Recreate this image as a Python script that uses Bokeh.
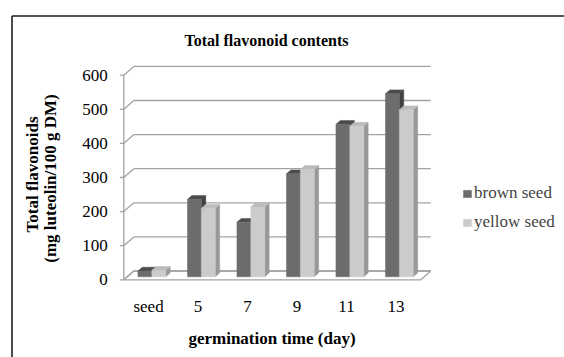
from math import pi

from bokeh.core.properties import value
from bokeh.embed import file_html
from bokeh.models import Legend, LegendItem, Range1d
from bokeh.plotting import figure
from bokeh.resources import INLINE

# --- data -----------------------------------------------------------------
categories = ["seed", "5", "7", "9", "11", "13"]
brown_seed = [17, 227, 160, 302, 447, 537]
yellow_seed = [19, 201, 205, 315, 442, 490]
y_ticks = [0, 100, 200, 300, 400, 500, 600]

# --- canvas geometry (pixels) ---------------------------------------------
W, H = 564, 357
AXIS_X_PX = 123.3     # front value axis
ZERO_Y_PX = 279.3     # front zero line
CAT_PX = 49.5         # width of one category slot
UNIT_PX = 0.341       # pixels per value unit


def xs(px):
    """pixel width -> category units"""
    return px / CAT_PX


def ys(px):
    """pixel height -> value units"""
    return px / UNIT_PX


def at_x(px):
    return (px - AXIS_X_PX) / CAT_PX


def at_y(py):
    return (ZERO_Y_PX - py) / UNIT_PX


WALL_DX, WALL_DY = xs(10), ys(8.8)      # depth of the 3-D box
FRONT_DX, FRONT_DY = xs(3.3), ys(3.0)   # where the bar fronts sit
BAR_DX, BAR_DY = xs(4.4), ys(3.8)       # depth of each bar
BAR_W = xs(13.9)
n = len(categories)

FONT_NAME = "'Liberation Serif', 'Times New Roman', Times, serif"
SERIF = value(FONT_NAME)
GRID = "#a3a3a3"

p = figure(width=W, height=H,
           x_range=Range1d(at_x(0), at_x(W)), y_range=Range1d(at_y(H), at_y(0)),
           x_axis_type=None, y_axis_type=None,
           output_backend="svg", toolbar_location=None, min_border=0)
p.grid.visible = False
p.outline_line_color = None
p.background_fill_color = "white"
p.border_fill_color = "white"

# --- chart border (left and top edges) -------------------------------------
p.segment(x0=[at_x(11.5)], y0=[at_y(15.5)], x1=[at_x(W + 5)], y1=[at_y(15.5)],
          line_color="#1e1e1e", line_width=1.6)
p.segment(x0=[at_x(11.5)], y0=[at_y(15.5)], x1=[at_x(11.5)], y1=[at_y(H + 5)],
          line_color="#1e1e1e", line_width=1.6)

# --- floor -------------------------------------------------------------------
p.patch(x=[0, n, n + WALL_DX, WALL_DX], y=[0, 0, WALL_DY, WALL_DY],
        fill_color="white", line_color=GRID, line_width=1.3)

# --- back wall gridlines and their diagonals -----------------------------------
p.segment(x0=[WALL_DX] * len(y_ticks), y0=[v + WALL_DY for v in y_ticks],
          x1=[n + WALL_DX] * len(y_ticks), y1=[v + WALL_DY for v in y_ticks],
          line_color=GRID, line_width=1.3)
p.segment(x0=[0] * len(y_ticks), y0=y_ticks,
          x1=[WALL_DX] * len(y_ticks), y1=[v + WALL_DY for v in y_ticks],
          line_color=GRID, line_width=1.3)

# --- front value axis with ticks ---------------------------------------------
p.segment(x0=[0], y0=[0], x1=[0], y1=[max(y_ticks)], line_color=GRID, line_width=1.3)
p.segment(x0=[-xs(4)] * len(y_ticks), y0=y_ticks, x1=[0] * len(y_ticks), y1=y_ticks,
          line_color=GRID, line_width=1.3)


# --- 3-D bars ------------------------------------------------------------------
def bar_shapes(values, slot):
    fronts = dict(left=[], right=[], bottom=[], top=[])
    caps_x, caps_y, sides_x, sides_y = [], [], [], []
    for i, v in enumerate(values):
        left = i + 0.5 - BAR_W + slot * BAR_W + FRONT_DX
        right = left + BAR_W
        bottom = FRONT_DY
        top = v + FRONT_DY
        fronts["left"].append(left)
        fronts["right"].append(right)
        fronts["bottom"].append(bottom)
        fronts["top"].append(top)
        caps_x.append([left, right, right + BAR_DX, left + BAR_DX])
        caps_y.append([top, top, top + BAR_DY, top + BAR_DY])
        sides_x.append([right, right, right + BAR_DX, right + BAR_DX])
        sides_y.append([bottom, top, top + BAR_DY, bottom + BAR_DY])
    return fronts, caps_x, caps_y, sides_x, sides_y


series = [
    ("brown seed", brown_seed, "#6c6c6c", "#4c4c4c", "#404040"),
    ("yellow seed", yellow_seed, "#cbcbcb", "#bcbcbc", "#989898"),
]
legend_items = []
for slot, (name, vals, c_front, c_cap, c_side) in enumerate(series):
    fronts, cx, cy, sx, sy = bar_shapes(vals, slot)
    p.patches(xs=sx, ys=sy, fill_color=c_side, line_color=c_side, line_width=0.5)
    p.patches(xs=cx, ys=cy, fill_color=c_cap, line_color=c_cap, line_width=0.5)
    r = p.quad(left=fronts["left"], right=fronts["right"],
               bottom=fronts["bottom"], top=fronts["top"],
               fill_color=c_front, line_color=c_front, line_width=0.5)
    legend_items.append(LegendItem(label=name, renderers=[r]))

# --- texts ---------------------------------------------------------------------
p.text(x=[0] * len(y_ticks), y=y_ticks, text=[str(v) for v in y_ticks],
       x_offset=-16, text_align="right", text_baseline="middle",
       text_font=SERIF, text_font_size="17px", text_color="black")
p.text(x=[i + 0.5 for i in range(n)], y=[0] * n, text=categories,
       y_offset=27, text_align="center", text_baseline="middle",
       text_font=SERIF, text_font_size="17px", text_color="black")

p.text(x=[at_x(266)], y=[at_y(40)], text=["Total flavonoid contents"],
       text_align="center", text_baseline="middle", text_font=SERIF,
       text_font_style="bold", text_font_size="16px", text_color="black")
p.text(x=[at_x(271.5)], y=[at_y(338)], text=["germination time (day)"],
       text_align="center", text_baseline="middle", text_font=SERIF,
       text_font_style="bold", text_font_size="17px", text_color="black")
p.text(x=[at_x(32), at_x(50)], y=[at_y(174), at_y(178)],
       text=["Total flavonoids", "(mg luteolin/100 g DM)"], angle=pi / 2,
       text_align="center", text_baseline="middle", text_font=SERIF,
       text_font_style="bold", text_font_size="17px", text_color="black")

legend = Legend(items=legend_items, location=(462, 125),
                glyph_width=10, glyph_height=9, label_standoff=2, spacing=9,
                padding=0, margin=0, border_line_color=None,
                background_fill_alpha=0, label_text_font=FONT_NAME,
                label_text_font_size="17px", label_text_baseline="middle")
p.add_layout(legend)

open("out.html", "w").write(file_html(p, INLINE))
